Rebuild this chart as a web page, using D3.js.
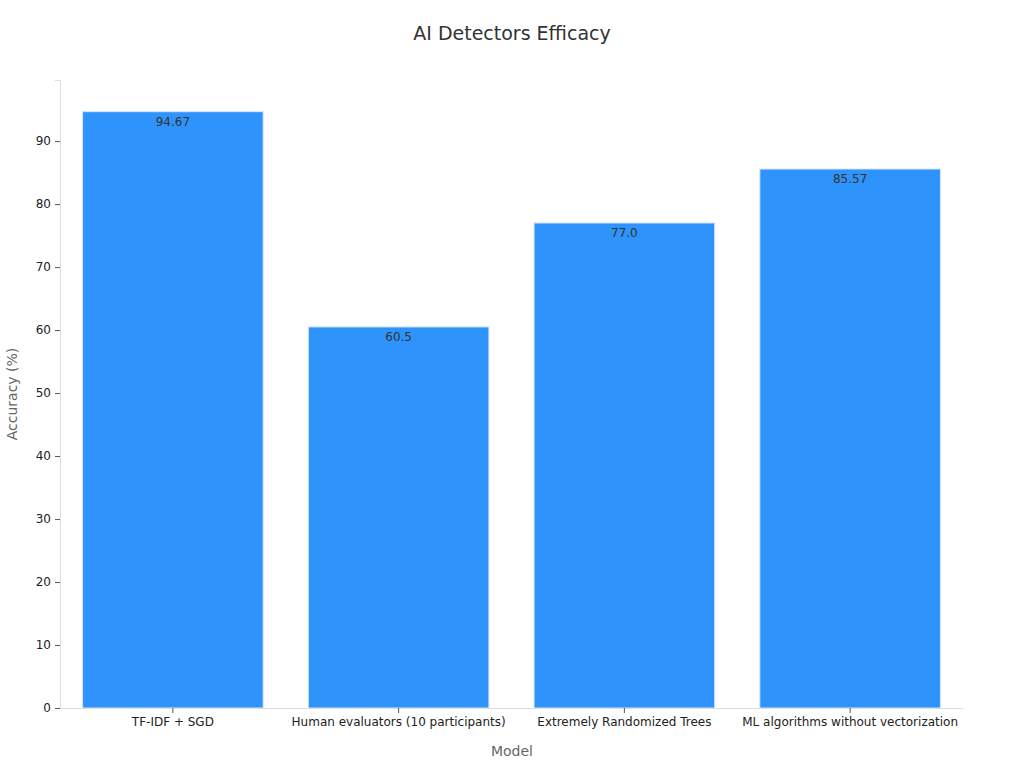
<!DOCTYPE html>
<html><head><meta charset="utf-8">
<script src="https://cdn.jsdelivr.net/npm/d3@7/dist/d3.min.js"></script>
<style>body{margin:0;background:#fff;font-family:"DejaVu Sans",sans-serif}</style>
</head><body><svg id="c" width="1024" height="768"></svg>
<script>
const categories = ["TF-IDF + SGD","Human evaluators (10 participants)","Extremely Randomized Trees","ML algorithms without vectorization"];
const values = [94.67, 60.5, 77.0, 85.57];
const labels = ["94.67","60.5","77.0","85.57"];
const yTicks = [0,10,20,30,40,50,60,70,80,90];

const svg = d3.select("#c");
const m = {l:60, r:963, t:80, b:708};
const x = d3.scaleBand().domain(categories).range([m.l, m.r]).paddingInner(0.2).paddingOuter(0.1);
const y = d3.scaleLinear().domain([0, 99.7]).range([m.b, m.t]);

svg.append("text").attr("x",512).attr("y",40).attr("text-anchor","middle")
  .attr("font-size",19).attr("fill","#333").text("AI Detectors Efficacy");

svg.append("g").selectAll("rect").data(values).join("rect")
  .attr("x",(d,i)=>x(categories[i])).attr("width",x.bandwidth())
  .attr("y",d=>y(d)).attr("height",d=>y(0)-y(d))
  .attr("fill","#2e93fa").attr("stroke","#d6e6f7").attr("stroke-width",1);

svg.append("g").selectAll("text").data(values).join("text")
  .attr("x",(d,i)=>x(categories[i])+x.bandwidth()/2).attr("y",d=>y(d)+14)
  .attr("text-anchor","middle").attr("font-size",12).attr("fill","#333")
  .text((d,i)=>labels[i]);

const ya = svg.append("g").attr("transform",`translate(${m.l},0)`)
  .call(d3.axisLeft(y).tickValues(yTicks).tickSize(5).tickPadding(4));
ya.select(".domain").attr("stroke","#ddd");
ya.selectAll(".tick line").attr("stroke","#555");
ya.selectAll("text").attr("font-size",12).attr("fill","#222").attr("font-family","DejaVu Sans");

const xa = svg.append("g").attr("transform",`translate(0,${m.b})`)
  .call(d3.axisBottom(x).tickSize(5).tickPadding(4).tickSizeOuter(0));
xa.select(".domain").attr("stroke","#ddd");
xa.selectAll(".tick line").attr("stroke","#555");
xa.selectAll("text").attr("font-size",12).attr("fill","#222").attr("font-family","DejaVu Sans");

svg.append("text").attr("x",512).attr("y",756).attr("text-anchor","middle")
  .attr("font-size",14).attr("fill","#666").text("Model");
svg.append("text").attr("transform","translate(17,394) rotate(-90)").attr("text-anchor","middle")
  .attr("font-size",14).attr("fill","#666").text("Accuracy (%)");
</script></body></html>
